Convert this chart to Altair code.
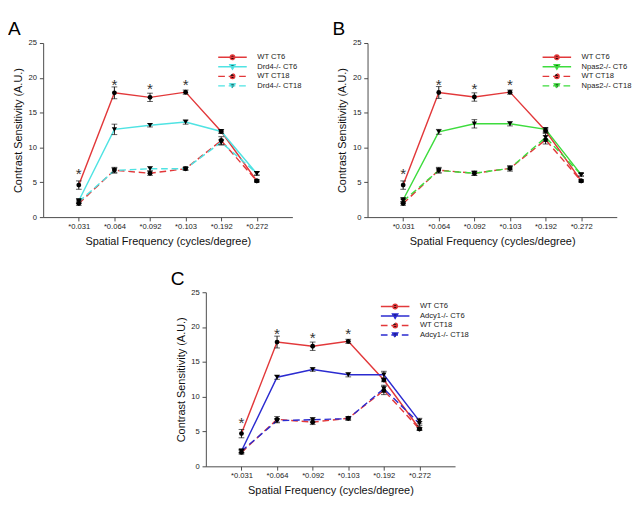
import altair as alt
import pandas as pd

# ---------------- data ----------------
FREQ_LABELS = ["*0.031", "*0.064", "*0.092", "*0.103", "*0.192", "*0.272"]
X_POS = [1, 2, 3, 4, 5, 6]

# Panel A (Drd4)
A_WT_CT6 = [4.6, 17.85, 17.2, 17.95, 12.3, 5.2]
A_WT_CT6_ERR = [0.6, 0.85, 0.6, 0.3, 0.25, 0.15]
A_MUT_CT6 = [2.35, 12.6, 13.2, 13.65, 12.3, 6.25]
A_MUT_CT6_ERR = [0.3, 0.75, 0.25, 0.3, 0.25, 0.25]
A_WT_CT18 = [1.95, 6.75, 6.3, 6.95, 11.0, 5.2]
A_WT_CT18_ERR = [0.25, 0.4, 0.3, 0.2, 0.55, 0.15]
A_MUT_CT18 = [2.2, 6.7, 6.95, 6.95, 10.75, 6.3]
A_MUT_CT18_ERR = [0.25, 0.35, 0.3, 0.2, 0.4, 0.25]

# Panel B (Npas2)
B_WT_CT6 = [4.6, 17.9, 17.25, 17.95, 12.4, 5.2]
B_WT_CT6_ERR = [0.6, 0.85, 0.6, 0.3, 0.25, 0.15]
B_MUT_CT6 = [2.5, 12.25, 13.4, 13.4, 12.6, 6.1]
B_MUT_CT6_ERR = [0.3, 0.35, 0.6, 0.3, 0.25, 0.2]
B_WT_CT18 = [1.95, 6.75, 6.3, 7.0, 11.1, 5.2]
B_WT_CT18_ERR = [0.25, 0.4, 0.3, 0.2, 0.6, 0.15]
B_MUT_CT18 = [2.3, 6.7, 6.3, 7.0, 11.45, 6.1]
B_MUT_CT18_ERR = [0.3, 0.35, 0.3, 0.4, 0.55, 0.2]

# Panel C (Adcy1)
C_WT_CT6 = [4.7, 17.85, 17.25, 17.95, 12.4, 5.4]
C_WT_CT6_ERR = [0.6, 0.85, 0.6, 0.3, 0.25, 0.15]
C_MUT_CT6 = [2.2, 12.8, 13.9, 13.15, 13.15, 6.5]
C_MUT_CT6_ERR = [0.25, 0.3, 0.25, 0.3, 0.5, 0.4]
C_WT_CT18 = [2.0, 6.75, 6.35, 6.9, 10.9, 5.35]
C_WT_CT18_ERR = [0.25, 0.4, 0.35, 0.2, 0.6, 0.2]
C_MUT_CT18 = [2.2, 6.55, 6.7, 6.85, 11.15, 6.15]
C_MUT_CT18_ERR = [0.25, 0.3, 0.3, 0.25, 0.5, 0.3]

# significance asterisks (x position index, y value of the glyph centre)
STAR_X = [1, 2, 3, 4]
STAR_Y = [6.7, 19.5, 18.9, 19.5]

RED = "#e2383a"
CYAN = "#4fe3e3"
GREEN = "#3ddc3d"
BLUE = "#2b2bd0"

W, H = 262, 183
FONT = "Liberation Sans"

LINE_CIRCLE = "M-5,0H5M0.8,0A0.8,0.8 0 1,1 -0.8,0A0.8,0.8 0 1,1 0.8,0Z"
LINE_TRI = "M-5,0H5M-0.9,-0.7L0.9,-0.7L0,0.8Z"

label_expr = "[" + ",".join("'%s'" % s for s in FREQ_LABELS) + "][datum.value - 1]"

X_ENC = alt.X("x:Q", scale=alt.Scale(domain=[0, 7], nice=False, zero=False),
              axis=alt.Axis(values=X_POS, labelExpr=label_expr, grid=False,
                            title="Spatial Frequency (cycles/degree)",
                            labelPadding=2, titlePadding=6))
Y_AXIS = alt.Axis(values=[0, 5, 10, 15, 20, 25], grid=False, title="Contrast Sensitivity (A.U.)",
                  labelPadding=3, titlePadding=5)
Y_SCALE = alt.Scale(domain=[0, 25], nice=False)


def Y(field):
    return alt.Y(field + ":Q", scale=Y_SCALE, axis=Y_AXIS)


def panel(letter, mutant, mcolor, series, errs):
    names = ["WT CT6", f"{mutant}-/- CT6", "WT CT18", f"{mutant}-/- CT18"]
    genos = ["WT", mutant, "WT", mutant]
    rows = []
    for si, (name, vals, es) in enumerate(zip(names, series, errs)):
        for i, (v, e) in enumerate(zip(vals, es)):
            rows.append(dict(series=name, geno=genos[si], x=X_POS[i], y=v, lo=v - e, hi=v + e,
                             wt=(si % 2 == 0), dashed=(si >= 2)))
    df = pd.DataFrame(rows)
    stars = pd.DataFrame({"x": STAR_X, "y": STAR_Y, "t": ["*"] * len(STAR_X)})
    legend_df = pd.DataFrame({"series": names, "panel": letter})
    colors = [RED, mcolor, RED, mcolor]

    # line colour keyed by genotype (a different domain from the legend's, so legends are not merged away)
    color = alt.Color("geno:N", scale=alt.Scale(domain=["WT", mutant], range=[RED, mcolor]), legend=None)
    base = alt.Chart(df)

    solid = base.transform_filter("!datum.dashed").mark_line(strokeWidth=1.5).encode(
        x=X_ENC, y=Y("y"), color=color, detail="series:N")
    dashed = base.transform_filter("datum.dashed").mark_line(strokeWidth=1.5, strokeDash=[7, 4]).encode(
        x=X_ENC, y=Y("y"), color=color, detail="series:N")
    rule = base.mark_rule(color="#111", strokeWidth=1).encode(x=X_ENC, y=Y("lo"), y2="hi:Q")
    cap_lo = base.mark_tick(orient="horizontal", size=6, thickness=1, color="#111").encode(x=X_ENC, y=Y("lo"))
    cap_hi = base.mark_tick(orient="horizontal", size=6, thickness=1, color="#111").encode(x=X_ENC, y=Y("hi"))
    circles = base.transform_filter("datum.wt").mark_point(
        shape="circle", filled=True, color="black", size=26, opacity=1).encode(x=X_ENC, y=Y("y"))
    tris = base.transform_filter("!datum.wt").mark_point(
        shape="triangle-down", filled=True, color="black", size=30, opacity=1).encode(x=X_ENC, y=Y("y"))
    star = alt.Chart(stars).mark_text(fontSize=16, font=FONT, color="#333", baseline="alphabetic",
                                      dy=9).encode(x=X_ENC, y=Y("y"), text="t:N")

    leg = alt.Legend(title=None, orient="none", legendX=195, legendY=11, labelFontSize=8,
                     labelFont=FONT, labelColor="#222", labelOffset=22, symbolSize=36,
                     symbolStrokeWidth=1.5, rowPadding=-2, symbolOpacity=1)
    legend_layer = alt.Chart(legend_df).transform_filter("false").mark_point(
        filled=True, strokeWidth=1.5, opacity=1).encode(
        stroke=alt.Stroke("series:N", scale=alt.Scale(domain=names, range=colors), legend=leg),
        fill=alt.Fill("series:N", scale=alt.Scale(domain=names, range=["black"] * 4), legend=leg),
        shape=alt.Shape("series:N", scale=alt.Scale(domain=names, range=[LINE_CIRCLE, LINE_TRI, LINE_CIRCLE, LINE_TRI]), legend=leg),
        strokeDash=alt.StrokeDash("series:N", scale=alt.Scale(domain=names, range=[[1, 0], [1, 0], [7, 4], [7, 4]]), legend=leg),
    )

    return alt.layer(solid, dashed, rule, cap_lo, cap_hi, circles, tris, star, legend_layer).properties(
        width=W, height=H,
        title=alt.TitleParams(letter, anchor="start", frame="bounds", fontSize=20, fontWeight="normal",
                              font=FONT, color="black", dx=-5, offset=0),
    )


pa = panel("A", "Drd4", CYAN,
           [A_WT_CT6, A_MUT_CT6, A_WT_CT18, A_MUT_CT18],
           [A_WT_CT6_ERR, A_MUT_CT6_ERR, A_WT_CT18_ERR, A_MUT_CT18_ERR])
pb = panel("B", "Npas2", GREEN,
           [B_WT_CT6, B_MUT_CT6, B_WT_CT18, B_MUT_CT18],
           [B_WT_CT6_ERR, B_MUT_CT6_ERR, B_WT_CT18_ERR, B_MUT_CT18_ERR])
pc = panel("C", "Adcy1", BLUE,
           [C_WT_CT6, C_MUT_CT6, C_WT_CT18, C_MUT_CT18],
           [C_WT_CT6_ERR, C_MUT_CT6_ERR, C_WT_CT18_ERR, C_MUT_CT18_ERR])

INDEP = dict(color="independent", stroke="independent", fill="independent",
             shape="independent", strokeDash="independent")
LEG_INDEP = dict(stroke="independent", fill="independent", shape="independent", strokeDash="independent")

top = alt.hconcat(pa, pb, spacing=32).resolve_scale(**INDEP).resolve_legend(**LEG_INDEP)

chart = alt.vconcat(top, pc, spacing=23, center=True).resolve_scale(**INDEP).resolve_legend(
    **LEG_INDEP
).properties(padding=0, background="white").configure_view(stroke=None).configure_axis(
    labelFont=FONT, titleFont=FONT, labelFontSize=8, titleFontSize=11.5,
    titleFontWeight="normal", domainColor="#444", tickColor="#444", tickSize=4,
    labelColor="#222", titleColor="#111",
)

chart.save("out.html", embed_options={"renderer": "svg", "actions": False})
